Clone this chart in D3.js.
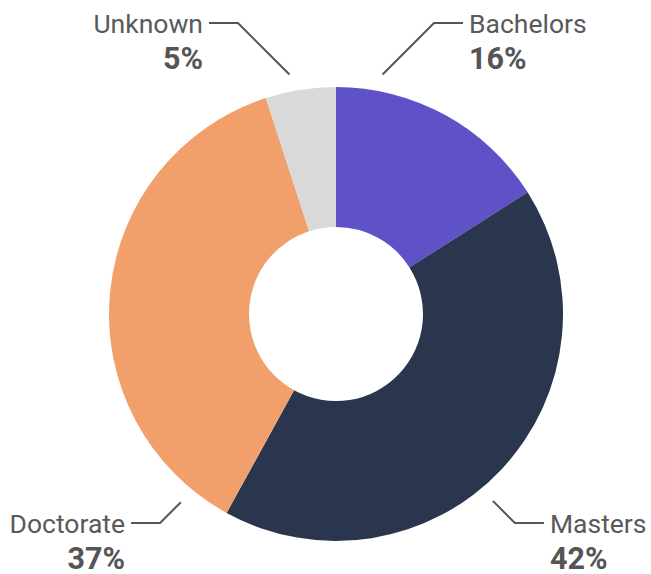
<!DOCTYPE html>
<html>
<head>
<meta charset="utf-8">
<script src="https://cdn.jsdelivr.net/npm/d3@7"></script>
<style>
  body { margin: 0; background: #fff; }
  svg { display: block; font-family: Roboto, "Noto Sans", sans-serif; }
</style>
</head>
<body>
<div id="container"></div>
<script>
const categories = ["Bachelors", "Masters", "Doctorate", "Unknown"];
const shares = [16, 42, 37, 5];
const colors = ["#5f52c9", "#2a364e", "#f1a06b", "#d9d9d9"];

// where each label's leader line touches the ring (degrees clockwise from 12 o'clock)
const leaderAngles = [11, 140, 219.5, -11];
const labelRows = [23, 523, 523, 23];

const width = 651, height = 574;
const cx = 336, cy = 314;
const outerR = 227, innerR = 87, leaderR = 244;

const svg = d3.select('#container').append('svg')
    .attr('width', width)
    .attr('height', height);

const data = categories.map((c, i) => ({ name: c, value: shares[i], color: colors[i], angle: leaderAngles[i], row: labelRows[i] }));

const pie = d3.pie().sort(null).value(d => d.value);
const arc = d3.arc().innerRadius(innerR).outerRadius(outerR);

const g = svg.append('g').attr('transform', `translate(${cx},${cy})`);

g.selectAll('path')
  .data(pie(data))
  .enter()
  .append('path')
  .attr('d', arc)
  .attr('fill', d => d.data.color);

const labels = svg.append('g');

data.forEach(d => {
  const a = d.angle * Math.PI / 180;
  const x0 = cx + leaderR * Math.sin(a);
  const y0 = cy - leaderR * Math.cos(a);
  const right = Math.sin(a) > 0;
  const dy = Math.abs(d.row - y0);
  const x1 = right ? x0 + dy : x0 - dy;
  const x2 = right ? x1 + 29 : x1 - 29;

  labels.append('path')
    .attr('d', `M${x0},${y0}L${x1},${d.row}L${x2},${d.row}`)
    .attr('fill', 'none')
    .attr('stroke', '#555')
    .attr('stroke-width', 2);

  const tx = right ? x2 + 6 : x2 - 6;
  const anchor = right ? 'start' : 'end';

  labels.append('text')
    .attr('x', tx)
    .attr('y', d.row + 9.5)
    .attr('text-anchor', anchor)
    .attr('font-size', 26.5)
    .attr('fill', '#595959')
    .text(d.name);

  labels.append('text')
    .attr('x', tx)
    .attr('y', d.row + 46)
    .attr('text-anchor', anchor)
    .attr('font-size', 30.5)
    .attr('font-weight', 'bold')
    .attr('fill', '#555')
    .text(d.value + '%');
});
</script>
</body>
</html>
